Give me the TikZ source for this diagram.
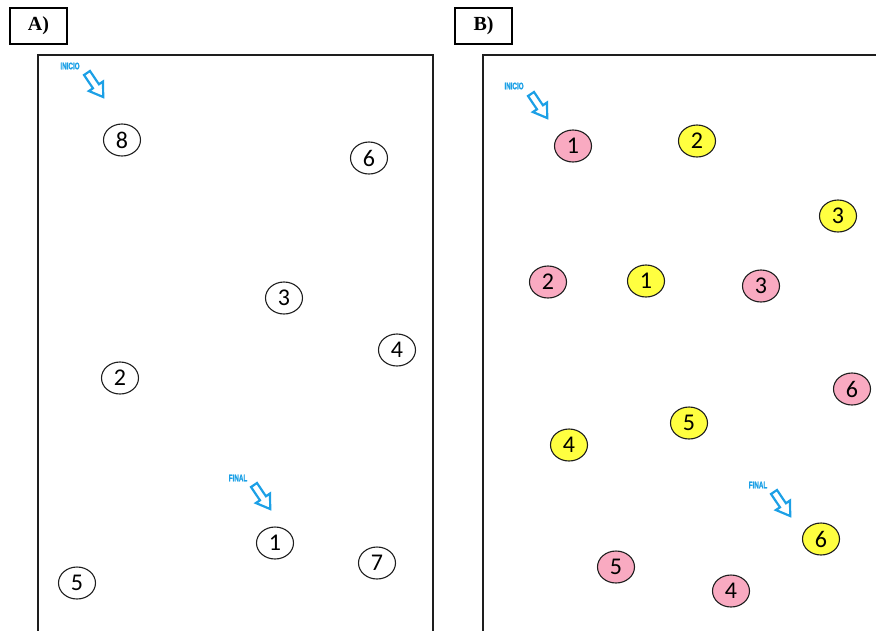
\documentclass[tikz,border=0pt]{standalone}
\usepackage{fontspec}
\setmainfont{Liberation Serif}
\newfontfamily\numfont{Carlito}
\newfontfamily\lblfont[FakeBold=2]{Liberation Sans}
\usetikzlibrary{shapes.geometric}
\definecolor{pinkfill}{RGB}{249,170,193}
\definecolor{yellowfill}{RGB}{255,255,64}
\definecolor{arrowblue}{RGB}{28,160,230}
\definecolor{edge}{RGB}{30,30,30}
\tikzset{
  num/.style={ellipse, draw=edge, line width=1.1pt, minimum width=37pt, minimum height=32pt, inner sep=0pt, font=\numfont\fontsize{24}{24}\selectfont},
  pinknum/.style={num, fill=pinkfill},
  yellownum/.style={num, fill=yellowfill},
  panel/.style={draw=edge, line width=1.1pt},
  tag/.style={draw=black, line width=1.4pt, minimum width=57pt, minimum height=36pt, inner sep=0pt, font=\bfseries\fontsize{20}{20}\selectfont},
  cue/.style={text=arrowblue, inner sep=0pt, font=\lblfont\bfseries\fontsize{9.5}{9.5}\selectfont},
  hollowarrow/.style={draw=arrowblue, fill=white, line width=2.2pt, line join=miter}
}
\newcommand{\blockarrow}[2]{%
  \begin{scope}[shift={(#1,#2)}, rotate=-56]
    \draw[hollowarrow] (0,-3.6) -- (16,-3.6) -- (16,-8.5) -- (29,0) -- (16,8.5) -- (16,3.6) -- (0,3.6) -- cycle;
  \end{scope}}
\begin{document}
\begin{tikzpicture}[x=1pt,y=1pt]
\useasboundingbox (0,0) rectangle (876,-630);
% panels
\draw[panel] (38,-631) -- (38,-55) -- (433,-55) -- (433,-631);
\draw[panel] (483,-631) -- (483,-55) -- (877,-55);
% tags
\node[tag] (tagA) at (38.5,-26) {A)};
\node[tag] (tagB) at (483.5,-26) {B)};
% panel A
\node[cue] (iniA) at (70,-66) {\scalebox{0.66}[1]{INICIO}};
\blockarrow{87}{-73}
\node[cue] (finA) at (238,-478) {\scalebox{0.66}[1]{FINAL}};
\blockarrow{254}{-485}
\node[num] (a8) at (122,-140) {8};
\node[num] (a6) at (369,-158) {6};
\node[num] (a3) at (284,-298) {3};
\node[num] (a4) at (397,-350) {4};
\node[num] (a2) at (120,-378) {2};
\node[num] (a1) at (275,-543) {1};
\node[num] (a7) at (377,-563) {7};
\node[num] (a5) at (77,-583) {5};
% panel B
\node[cue] (iniB) at (514,-86) {\scalebox{0.66}[1]{INICIO}};
\blockarrow{531}{-94}
\node[cue] (finB) at (758,-485) {\scalebox{0.66}[1]{FINAL}};
\blockarrow{774}{-492}
\node[pinknum] (bp1) at (573,-146) {1};
\node[yellownum] (by2) at (697,-141) {2};
\node[yellownum] (by3) at (838,-216) {3};
\node[pinknum] (bp2) at (548,-282) {2};
\node[yellownum] (by1) at (646,-281) {1};
\node[pinknum] (bp3) at (761,-286) {3};
\node[pinknum] (bp6) at (852,-389) {6};
\node[yellownum] (by5) at (689,-423) {5};
\node[yellownum] (by4) at (569,-445) {4};
\node[yellownum] (by6) at (821,-539) {6};
\node[pinknum] (bp5) at (616,-567) {5};
\node[pinknum] (bp4) at (731,-591) {4};
\end{tikzpicture}
\end{document}
